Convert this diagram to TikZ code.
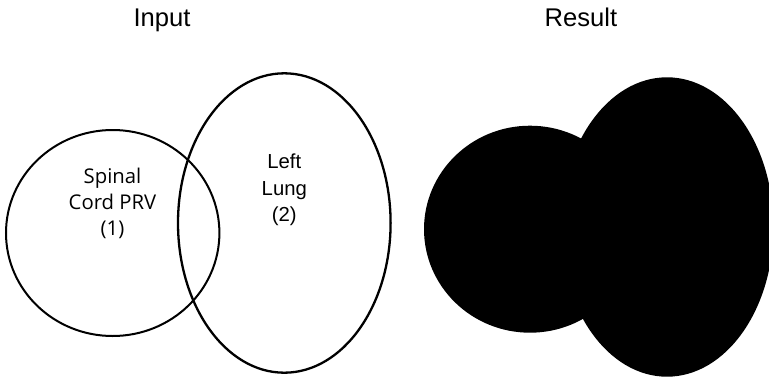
\documentclass[tikz,border=0pt]{standalone}
\usepackage{fontspec}
\setmainfont{Liberation Sans}
\newfontfamily\organfont{Open Sans}
\begin{document}
\begin{tikzpicture}[x=1pt,y=-1pt,
  outline/.style={draw=black,line width=2pt},
  title/.style={anchor=base,inner sep=0pt,font=\fontsize{25.6}{30}\selectfont},
  organ/.style={align=center,inner sep=0pt},
  merged/.style={fill=black}]
  \useasboundingbox (0,0) rectangle (769,381);
  \clip (0,0) rectangle (769,381);
  % panel titles
  \node[title] (tin) at (162,26.7) {Input};
  \node[title] (tout) at (581,26.7) {Result};
  % input structures
  \draw[outline] (112.7,233) ellipse [x radius=106.7, y radius=103];
  \draw[outline,line width=2.3pt] (284.3,223) ellipse [x radius=106.3, y radius=149.7];
  \node[organ,font=\organfont\fontsize{20.3}{26}\selectfont] (prv) at (112.5,203) {Spinal\\Cord PRV\\(1)};
  \node[organ,font=\fontsize{20.3}{26.5}\selectfont] (lung) at (284.3,190) {Left\\Lung\\(2)};
  % union of both structures
  \fill[merged] (530,229.2) ellipse [x radius=106, y radius=103.5];
  \fill[merged] (667,227) ellipse [x radius=106.5, y radius=149.7];
\end{tikzpicture}
\end{document}
